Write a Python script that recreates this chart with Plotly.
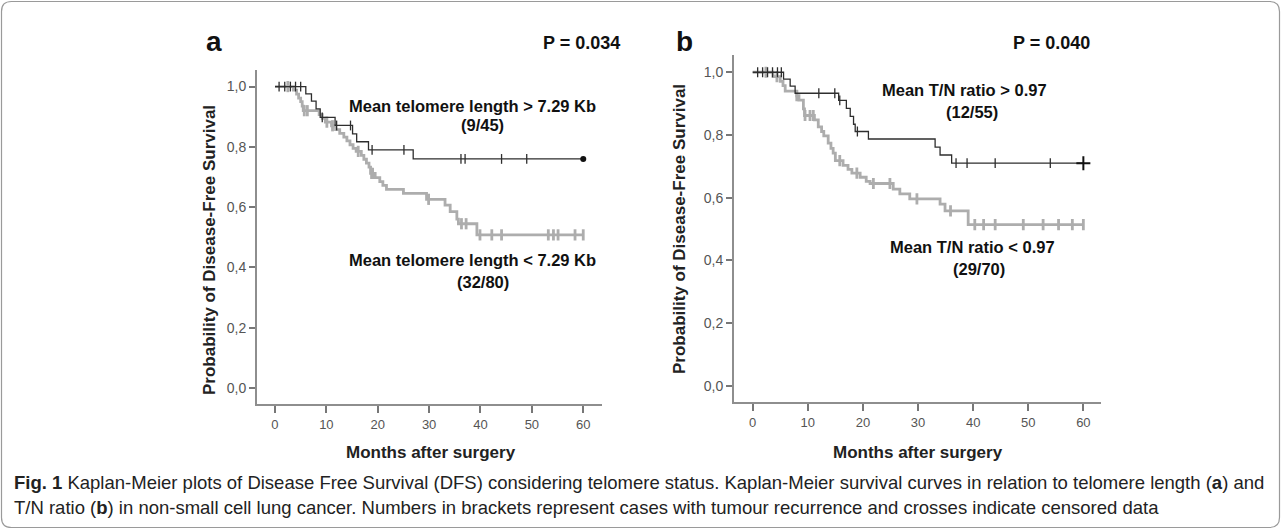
import plotly.graph_objects as go

W, H = 1281, 529

# ---------------- data ----------------
# Panel a: telomere length
a_hi_times = [6.0, 7.1, 8.0, 8.8, 11.7, 15.1, 15.9, 18.2, 26.9]
a_hi_surv = [0.976, 0.952, 0.926, 0.898, 0.871, 0.843, 0.817, 0.790, 0.760]
a_hi_cens = [0.8, 1.9, 3.0, 4.0, 5.0, 9.2, 12.0, 14.7, 18.9, 25.1, 36.2, 37.0, 44.1, 49.0]
a_hi_end = 60.0

a_lo_times = [3.6, 4.2, 4.6, 5.0, 5.3, 5.5, 8.6, 9.2, 9.8, 11.0, 11.8, 12.6, 13.4, 14.0,
              14.6, 15.2, 15.8, 16.8, 17.3, 17.8, 18.3, 18.6, 19.5, 20.4, 21.0, 21.7,
              25.0, 29.5, 33.1, 34.1, 35.4, 35.7, 39.3]
a_lo_surv = [0.988, 0.975, 0.962, 0.950, 0.935, 0.920, 0.907, 0.895, 0.882, 0.870, 0.857,
             0.845, 0.832, 0.820, 0.807, 0.795, 0.785, 0.772, 0.759, 0.746, 0.733, 0.712,
             0.698, 0.685, 0.672, 0.659, 0.646, 0.626, 0.607, 0.585, 0.560, 0.545, 0.508]
a_lo_cens = [2.5, 5.7, 6.3, 10.1, 11.2, 16.2, 18.8, 19.0, 29.9, 36.3, 37.2, 39.9, 42.2,
             44.1, 53.2, 54.2, 55.1, 58.4, 60.0]
a_lo_end = 60.0

# Panel b: T/N ratio
b_hi_times = [5.6, 6.8, 7.7, 15.6, 17.0, 17.7, 18.3, 18.6, 21.0, 33.1, 34.0, 36.1]
b_hi_surv = [0.978, 0.956, 0.933, 0.910, 0.885, 0.859, 0.834, 0.811, 0.787, 0.761, 0.736, 0.710]
b_hi_cens = [0.9, 1.8, 2.7, 3.6, 4.5, 5.2, 12.0, 14.9, 15.8, 19.0, 36.9, 38.9, 44.0, 54.0]
b_hi_end = 60.0

b_lo_times = [3.7, 5.0, 5.5, 5.9, 8.0, 8.4, 9.2, 9.4, 11.2, 11.9, 12.5, 12.9, 13.7, 14.2,
              14.6, 15.0, 16.4, 17.3, 18.0, 19.5, 20.6, 21.3, 25.5, 26.7, 28.5, 34.0,
              34.9, 39.1]
b_lo_surv = [0.986, 0.971, 0.957, 0.940, 0.925, 0.911, 0.883, 0.862, 0.848, 0.826, 0.811,
             0.797, 0.774, 0.757, 0.742, 0.718, 0.703, 0.690, 0.678, 0.665, 0.652, 0.645,
             0.627, 0.612, 0.596, 0.579, 0.558, 0.514]
b_lo_cens = [2.4, 4.4, 8.0, 9.5, 10.4, 11.0, 15.8, 18.9, 21.9, 24.9, 29.8, 35.9, 40.3,
             41.9, 44.0, 49.1, 52.7, 55.5, 58.0, 60.0]
b_lo_end = 60.0

y_ticks = [0.0, 0.2, 0.4, 0.6, 0.8, 1.0]
y_tick_labels = ["0,0", "0,2", "0,4", "0,6", "0,8", "1,0"]
x_ticks = [0, 10, 20, 30, 40, 50, 60]

BLACK = "#2e2e2e"
GREY = "#adadad"
FONT = "Liberation Sans, Arial, sans-serif"


def px(x):
    return x / W


def py(y):
    return 1 - y / H


def level_at(t, times, surv):
    s = 1.0
    for ti, si in zip(times, surv):
        if ti <= t:
            s = si
    return s


def step_xy(times, surv, end):
    xs = [0.0] + list(times) + [end]
    ys = [1.0] + list(surv) + [surv[-1]]
    return xs, ys


fig = go.Figure()


def add_curve(times, surv, cens, end, color, width, msize, xa, ya):
    xs, ys = step_xy(times, surv, end)
    fig.add_trace(go.Scatter(x=xs, y=ys, mode="lines", line=dict(color=color, width=width, shape="hv"),
                             xaxis=xa, yaxis=ya, showlegend=False, hoverinfo="skip"))
    cy = [level_at(t, times, surv) for t in cens]
    fig.add_trace(go.Scatter(x=cens, y=cy, mode="markers",
                             marker=dict(symbol="line-ns", size=msize, line=dict(color=color, width=width)),
                             xaxis=xa, yaxis=ya, showlegend=False, hoverinfo="skip"))


add_curve(a_lo_times, a_lo_surv, a_lo_cens, a_lo_end, GREY, 2.8, 8, "x", "y")
add_curve(a_hi_times, a_hi_surv, a_hi_cens, a_hi_end, BLACK, 1.3, 7, "x", "y")
fig.add_trace(go.Scatter(x=[a_hi_end], y=[a_hi_surv[-1]], mode="markers",
                         marker=dict(symbol="circle", size=6, color="#111"),
                         xaxis="x", yaxis="y", showlegend=False, hoverinfo="skip"))

add_curve(b_lo_times, b_lo_surv, b_lo_cens, b_lo_end, GREY, 2.8, 8, "x2", "y2")
add_curve(b_hi_times, b_hi_surv, b_hi_cens, b_hi_end, BLACK, 1.3, 7, "x2", "y2")
fig.add_trace(go.Scatter(x=[b_hi_end], y=[b_hi_surv[-1]], mode="markers",
                         marker=dict(symbol="cross-thin", size=10, line=dict(color="#111", width=2)),
                         xaxis="x2", yaxis="y2", showlegend=False, hoverinfo="skip"))

axcommon = dict(showgrid=False, zeroline=False, showline=True, linecolor="#8e8e8e", linewidth=1.8,
                ticks="outside", tickcolor="#777", tickwidth=1.6)
xfont = dict(family=FONT, size=13, color="#555")
yfont = dict(family=FONT, size=14, color="#555")

fig.update_layout(
    width=W, height=H, margin=dict(l=0, r=0, t=0, b=0),
    plot_bgcolor="white", paper_bgcolor="white",
    xaxis=dict(domain=[px(257), px(602)], range=[-3.5, 63.65], tickvals=x_ticks, ticklen=7,
               anchor="y", tickfont=xfont, **axcommon),
    yaxis=dict(domain=[py(404), py(70)], range=[-0.053, 1.055], tickvals=y_ticks,
               ticktext=y_tick_labels, ticklen=6, anchor="x", tickfont=yfont, **axcommon),
    xaxis2=dict(domain=[px(734), px(1101)], range=[-3.39, 63.2], tickvals=x_ticks, ticklen=7,
                anchor="y2", tickfont=xfont, **axcommon),
    yaxis2=dict(domain=[py(402.3), py(55)], range=[-0.053, 1.055], tickvals=y_ticks,
                ticktext=y_tick_labels, ticklen=6, anchor="x2", tickfont=yfont, **axcommon),
)


def ann(text, x, y, size, bold=True, color="#111", angle=0, xanchor="center"):
    fig.add_annotation(text=("<b>%s</b>" % text) if bold else text, x=px(x), y=py(y),
                       xref="paper", yref="paper", showarrow=False, textangle=angle,
                       xanchor=xanchor, yanchor="middle",
                       font=dict(family=FONT, size=size, color=color))


# panel a texts
ann("a", 214, 42, 28)
ann("P = 0.034", 541, 43, 18, xanchor="left")
ann("Mean telomere length &gt; 7.29 Kb", 347, 106, 16.5, xanchor="left")
ann("(9/45)", 482.5, 124.5, 16.5)
ann("Mean telomere length &lt; 7.29 Kb", 347, 260, 16.5, xanchor="left")
ann("(32/80)", 483, 282, 16.5)
ann("Probability of Disease-Free Survival", 209, 250, 17, color="#222", angle=-90)
ann("Months after surgery", 431, 452, 17, color="#222")

# panel b texts
ann("b", 684, 42, 28)
ann("P = 0.040", 1011, 43, 18, xanchor="left")
ann("Mean T/N ratio &gt; 0.97", 880, 90, 16.5, xanchor="left")
ann("(12/55)", 972, 112, 16.5)
ann("Mean T/N ratio &lt; 0.97", 888, 247, 16.5, xanchor="left")
ann("(29/70)", 979, 269, 16.5)
ann("Probability of Disease-Free Survival", 679, 229, 17, color="#222", angle=-90)
ann("Months after surgery", 918, 452, 17, color="#222")

# caption
cap1 = ("<b>Fig. 1</b> Kaplan-Meier plots of Disease Free Survival (DFS) considering telomere status. "
        "Kaplan-Meier survival curves in relation to telomere length (<b>a</b>) and")
cap2 = ("T/N ratio (<b>b</b>) in non-small cell lung cancer. Numbers in brackets represent cases with "
        "tumour recurrence and crosses indicate censored data")
fig.add_annotation(text=cap1, x=px(12), y=py(482), xref="paper", yref="paper", showarrow=False,
                   xanchor="left", yanchor="middle", font=dict(family=FONT, size=18.5, color="#222"))
fig.add_annotation(text=cap2, x=px(12), y=py(507), xref="paper", yref="paper", showarrow=False,
                   xanchor="left", yanchor="middle", font=dict(family=FONT, size=18.5, color="#222"))

# rounded border
x0, y0, x1, y1, r = 1.5, 1.5, 1279.5, 527.5, 10
path = ("M {a},{b} L {c},{b} Q {x1},{b} {x1},{d} L {x1},{e} Q {x1},{f} {c},{f} "
        "L {a},{f} Q {x0},{f} {x0},{e} L {x0},{d} Q {x0},{b} {a},{b} Z").format(
    a=px(x0 + r), b=py(y0), c=px(x1 - r), d=py(y0 + r), e=py(y1 - r), f=py(y1),
    x0=px(x0), x1=px(x1))
fig.add_shape(type="path", path=path, xref="paper", yref="paper",
              line=dict(color="#9a9a9a", width=1.2))

fig.write_html("out.html", config={"displayModeBar": False},
               post_script="document.body.style.margin='0';document.body.style.padding='0';"
                           "document.documentElement.style.overflow='hidden';")
